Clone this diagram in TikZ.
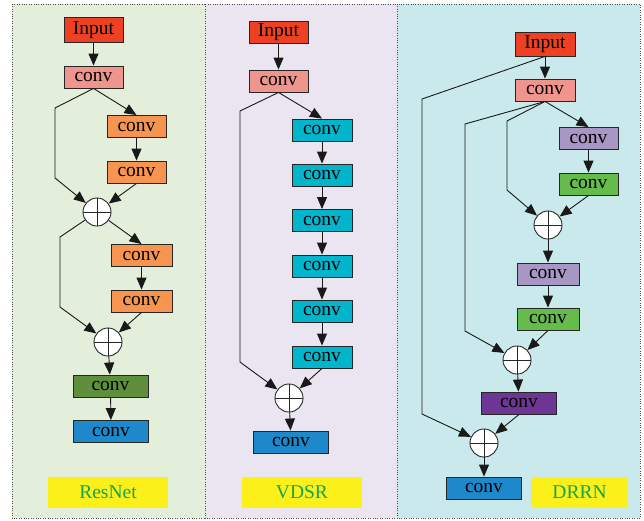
\documentclass[tikz,border=0pt]{standalone}
\usepackage{fontspec}
\setmainfont{Liberation Serif}
\usepackage{xcolor}
\usetikzlibrary{arrows.meta, positioning}

\definecolor{inred}{HTML}{EE4123}
\definecolor{pinkc}{HTML}{F0948E}
\definecolor{orangec}{HTML}{F79550}
\definecolor{darkgreen}{HTML}{5F8F3D}
\definecolor{bluec}{HTML}{1D89CA}
\definecolor{cyanc}{HTML}{00B5CC}
\definecolor{lilac}{HTML}{A896C4}
\definecolor{greenc}{HTML}{65BC4A}
\definecolor{purplec}{HTML}{6D3695}
\definecolor{labgreen}{HTML}{16A54C}
\definecolor{labyellow}{HTML}{FBF01A}
\definecolor{bgA}{HTML}{E3EEDB}
\definecolor{bgB}{HTML}{EAE5F1}
\definecolor{bgC}{HTML}{CAE9EC}

\begin{document}
\begin{tikzpicture}[x=1pt, y=-1pt, font=\fontsize{19.5}{21}\selectfont,
    box/.style={draw=black!85, line width=0.9pt, inner sep=0pt,
        minimum width=59pt, minimum height=22pt, text height=12pt, text depth=3pt},
    wide/.style={box, minimum width=75pt},
    plus/.style={circle, draw=black!85, line width=0.9pt, fill=white,
        minimum size=28pt, inner sep=0pt,
        path picture={\draw[line width=0.9pt] (path picture bounding box.north) -- (path picture bounding box.south)
            (path picture bounding box.west) -- (path picture bounding box.east);}},
    arr/.style={-{Triangle[length=12pt, width=10pt]}, line width=0.9pt, black!90},
    lab/.style={fill=labyellow, text=labgreen, minimum height=31pt, inner sep=0pt}]
    \useasboundingbox (0,0) rectangle (644,520);

    % 背景
    \draw[dotted, black!70, fill=bgA] (12,4) rectangle (205,518);
    \draw[dotted, black!70, fill=bgB] (205,4) rectangle (397,518);
    \draw[dotted, black!70, fill=bgC] (397,4) rectangle (640,518);

    % ResNet
    \node[box, fill=inred, minimum height=25pt] (resIn) at (93.5,30) {Input};
    \node[box, fill=pinkc] (resC1) at (93.5,77) {conv};
    \node[box, fill=orangec] (resC2) at (136.5,126.5) {conv};
    \node[box, fill=orangec] (resC3) at (136.5,172) {conv};
    \node[plus] (resP1) at (97,212) {};
    \node[box, fill=orangec, minimum width=61pt] (resC4) at (141.5,255.5) {conv};
    \node[box, fill=orangec, minimum width=61pt] (resC5) at (141.5,301) {conv};
    \node[plus] (resP2) at (108,342) {};
    \node[wide, fill=darkgreen] (resC6) at (110.5,386) {conv};
    \node[wide, fill=bluec] (resOut) at (111,431.5) {conv};
    \node[lab, minimum width=120pt] (resLab) at (108,492.5) {ResNet};

    \draw[arr] (resIn) -- (resC1);
    \draw[arr] (resC1.south) -- (resC2.north);
    \draw[arr] (resC2) -- (resC3);
    \draw[arr] (resC1.south) -- (55,108) -- (55,178) -- (resP1);
    \draw[arr] (resC3.south) -- (resP1);
    \draw[arr] (resP1) -- (resC4.north);
    \draw[arr] (resC4) -- (resC5);
    \draw[arr] (resP1) -- (60,237) -- (60,307) -- (resP2);
    \draw[arr] (resC5.south) -- (resP2);
    \draw[arr] (resP2) -- (resC6);
    \draw[arr] (resC6) -- (resOut);

    % VDSR
    \node[box, fill=inred] (vdIn) at (278.5,32) {Input};
    \node[box, fill=pinkc] (vdC1) at (278.5,81) {conv};
    \foreach \i/\y in {2/130, 3/175, 4/220.5, 5/266, 6/311, 7/357}
        \node[box, fill=cyanc, minimum width=60pt] (vdC\i) at (322,\y) {conv};
    \node[plus] (vdP) at (289,398) {};
    \node[wide, fill=bluec] (vdOut) at (291,442) {conv};
    \node[lab, minimum width=120pt] (vdLab) at (302,492.5) {VDSR};

    \draw[arr] (vdIn) -- (vdC1);
    \draw[arr] (vdC1.south) -- (vdC2.north);
    \foreach \i [evaluate=\i as \j using int(\i+1)] in {2,...,6}
        \draw[arr] (vdC\i) -- (vdC\j);
    \draw[arr] (vdC1.south) -- (240,111) -- (240,362) -- (vdP);
    \draw[arr] (vdC7.south) -- (vdP);
    \draw[arr] (vdP) -- (vdOut);

    % DRRN
    \node[box, fill=inred, minimum width=60pt, minimum height=24pt] (drIn) at (545,44) {Input};
    \node[box, fill=pinkc, minimum width=60pt] (drC1) at (545,90) {conv};
    \node[box, fill=lilac] (drC2) at (588.5,138.5) {conv};
    \node[box, fill=greenc] (drC3) at (588.5,184) {conv};
    \node[plus] (drP1) at (548,225) {};
    \node[box, fill=lilac, minimum width=62pt] (drC4) at (548,274) {conv};
    \node[box, fill=greenc, minimum width=62pt] (drC5) at (548,319) {conv};
    \node[plus] (drP2) at (517,360) {};
    \node[wide, fill=purplec] (drC6) at (519,403) {conv};
    \node[plus] (drP3) at (484,443) {};
    \node[wide, fill=bluec] (drOut) at (484,488) {conv};
    \node[lab, minimum width=97pt] (drLab) at (579.5,492.5) {DRRN};

    \draw[arr] (drIn) -- (drC1);
    \draw[arr] (drIn.south) -- (422,99) -- (422,414) -- (drP3);
    \draw[arr] (drC1.south) -- (drC2.north);
    \draw[arr] (drC2) -- (drC3);
    \draw[arr] (drC1.south) -- (507,121) -- (507,190) -- (drP1);
    \draw[arr] (drC1.south) -- (465,124) -- (465,331) -- (drP2);
    \draw[arr] (drC3.south) -- (drP1);
    \draw[arr] (drP1) -- (drC4);
    \draw[arr] (drC4) -- (drC5);
    \draw[arr] (drC5.south) -- (drP2);
    \draw[arr] (drP2) -- (drC6);
    \draw[arr] (drC6.south) -- (drP3);
    \draw[arr] (drP3) -- (drOut);
\end{tikzpicture}
\end{document}
